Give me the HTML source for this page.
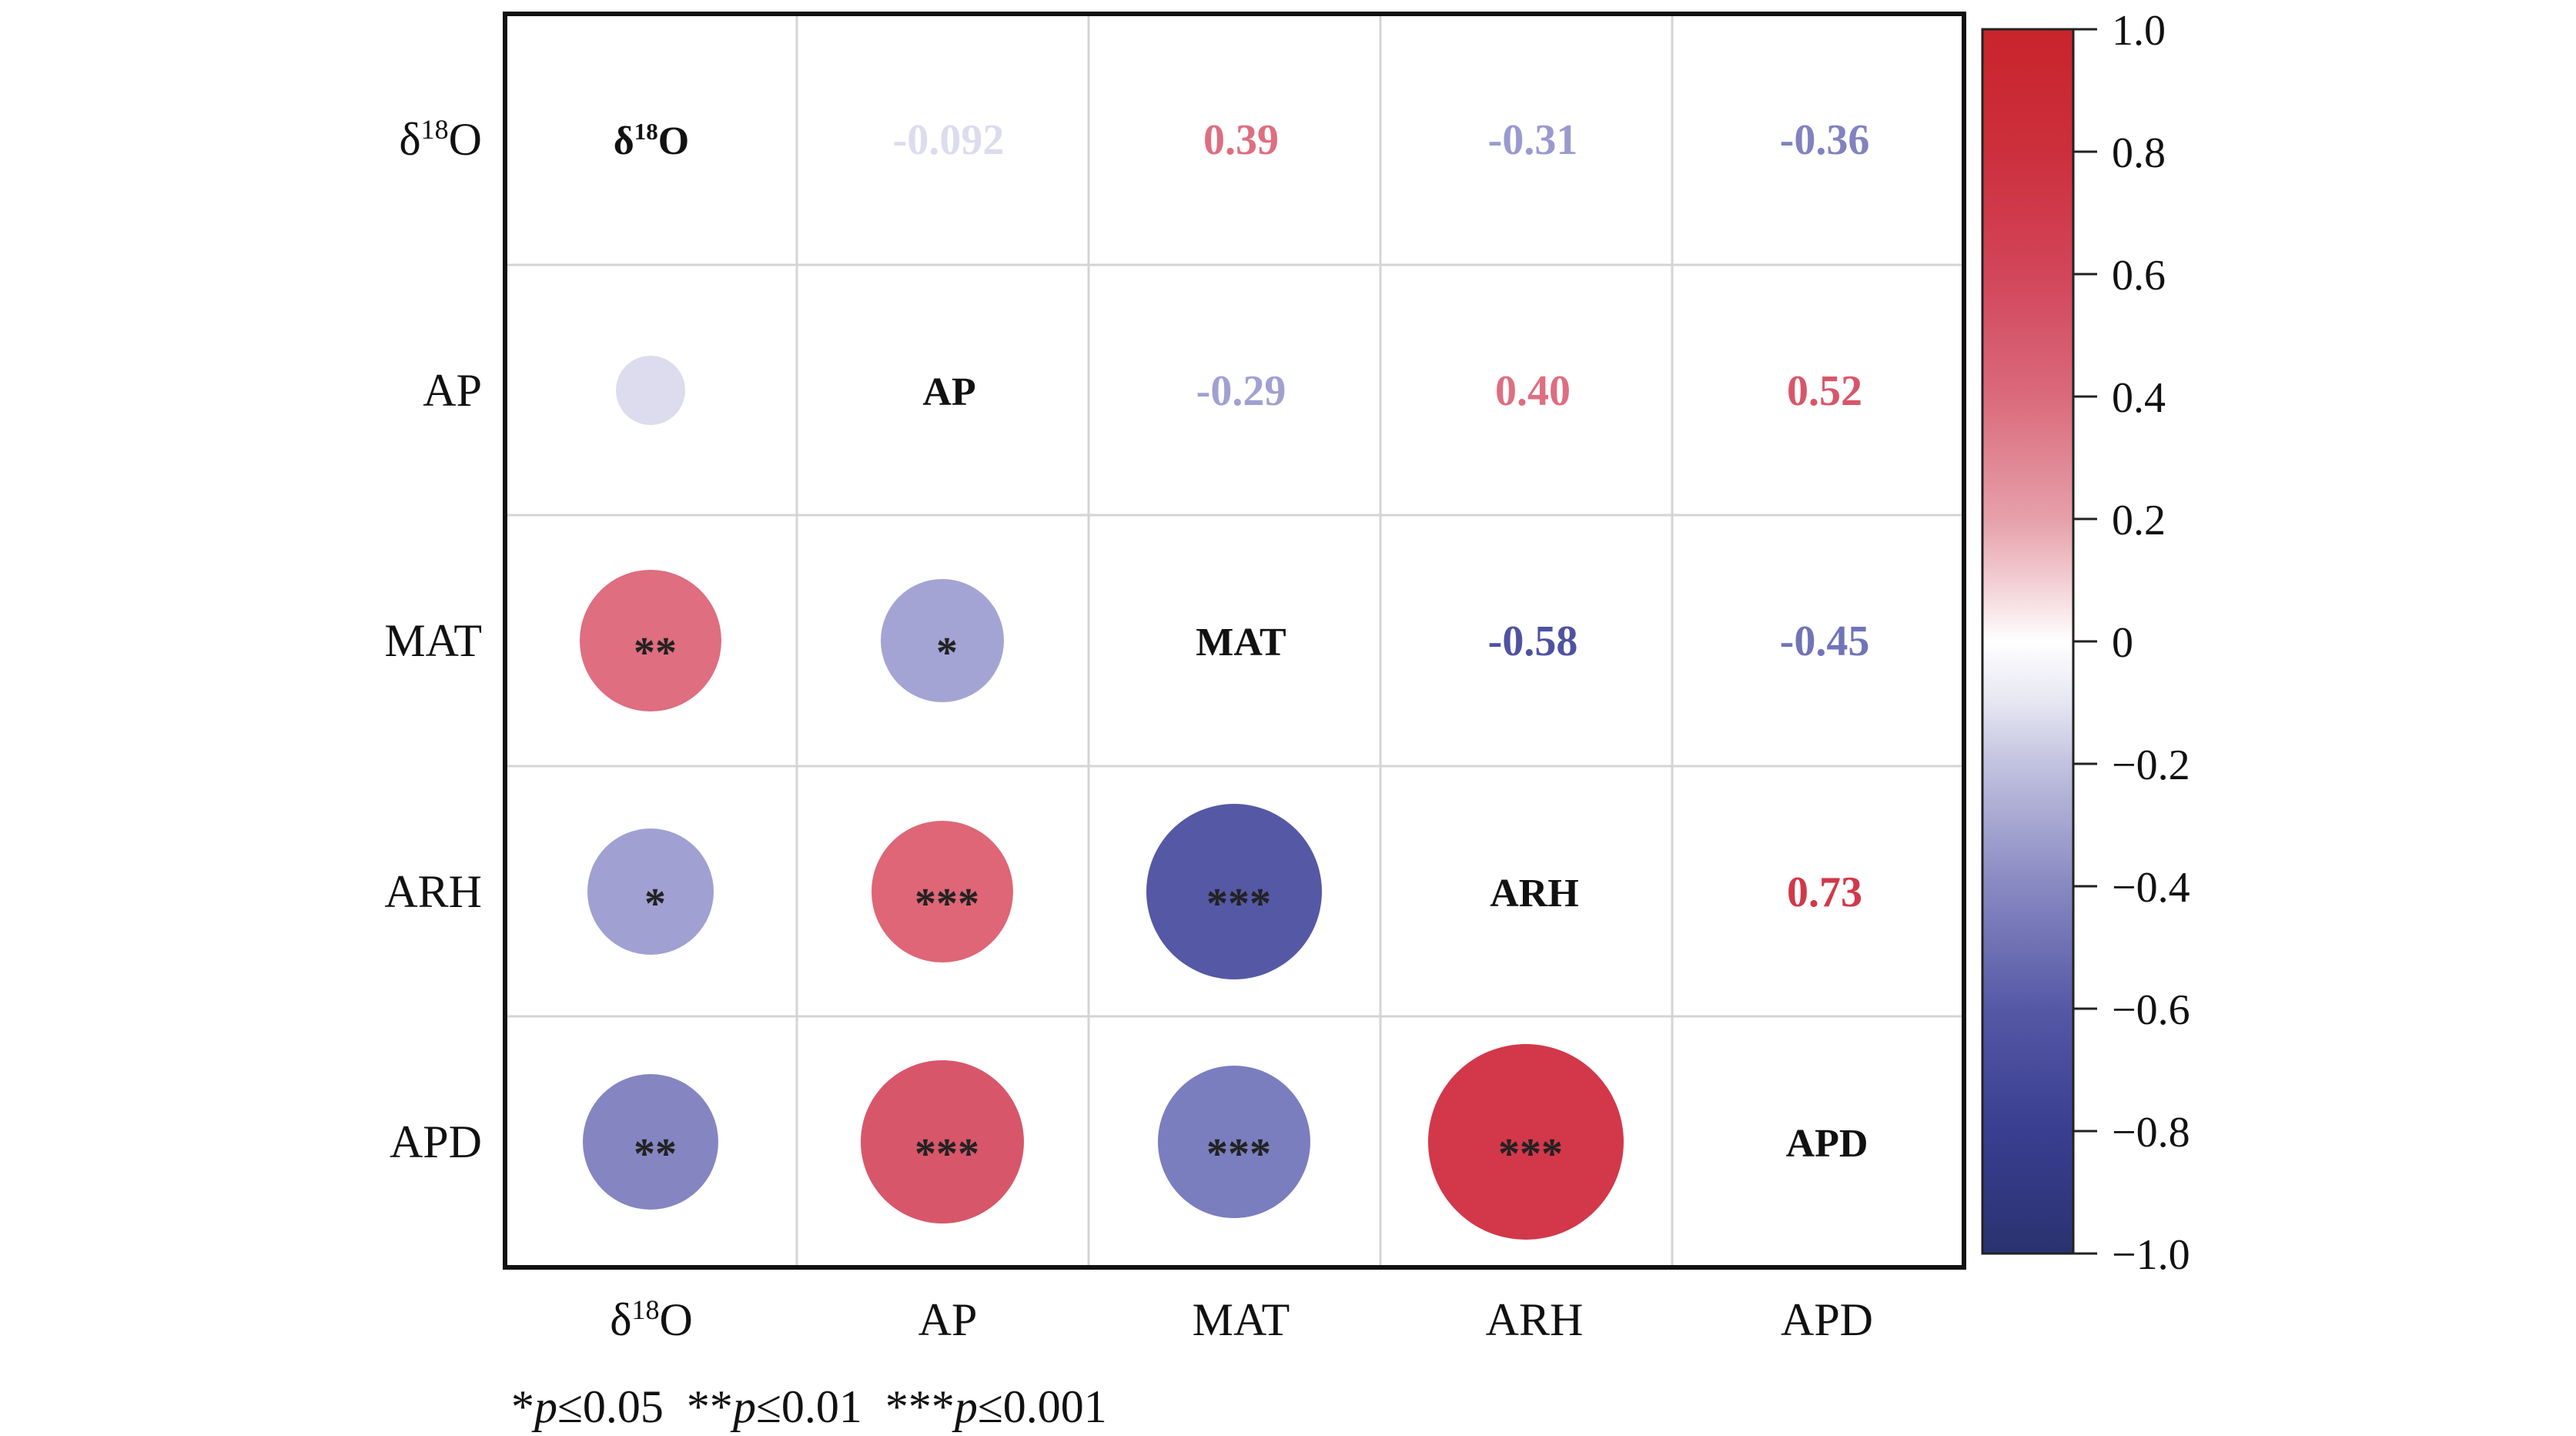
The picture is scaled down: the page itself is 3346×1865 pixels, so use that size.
<!DOCTYPE html>
<html><head><meta charset="utf-8"><style>html,body{margin:0;padding:0;background:#fff}svg{display:block}</style></head>
<body>
<svg width="3346" height="1865" viewBox="0 0 3346 1865" xmlns="http://www.w3.org/2000/svg" font-family="'Liberation Serif', serif">
<defs>
<linearGradient id="cb" x1="0" y1="0" x2="0" y2="1">
<stop offset="0" stop-color="#c8242c"/>
<stop offset="0.1" stop-color="#cc2f3c"/>
<stop offset="0.2" stop-color="#d2455a"/>
<stop offset="0.3" stop-color="#da6a7c"/>
<stop offset="0.4" stop-color="#e6a0aa"/>
<stop offset="0.45" stop-color="#f2cdd2"/>
<stop offset="0.5" stop-color="#ffffff"/>
<stop offset="0.55" stop-color="#e6e6f2"/>
<stop offset="0.6" stop-color="#c2c2e0"/>
<stop offset="0.7" stop-color="#8888c2"/>
<stop offset="0.8" stop-color="#5558a5"/>
<stop offset="0.9" stop-color="#3a3e90"/>
<stop offset="1" stop-color="#2a3270"/>
</linearGradient>
</defs>
<g stroke="#d4d4d4" stroke-width="3">
<line x1="1035" y1="18" x2="1035" y2="1646"/>
<line x1="1414" y1="18" x2="1414" y2="1646"/>
<line x1="1793" y1="18" x2="1793" y2="1646"/>
<line x1="2172" y1="18" x2="2172" y2="1646"/>
<line x1="656" y1="344" x2="2551" y2="344"/>
<line x1="656" y1="669" x2="2551" y2="669"/>
<line x1="656" y1="995" x2="2551" y2="995"/>
<line x1="656" y1="1320" x2="2551" y2="1320"/>
</g>
<rect x="656" y="18" width="1895" height="1628" fill="none" stroke="#111" stroke-width="6"/>
<circle cx="845" cy="507" r="45" fill="#dcdcee"/>
<circle cx="845" cy="832" r="92" fill="#de6e80"/>
<circle cx="1224" cy="832" r="80" fill="#a4a4d4"/>
<circle cx="845" cy="1158" r="82" fill="#a0a0d2"/>
<circle cx="1224" cy="1158" r="92" fill="#de6676"/>
<circle cx="1603" cy="1158" r="114" fill="#5558a5"/>
<circle cx="845" cy="1483" r="88" fill="#8585c2"/>
<circle cx="1224" cy="1483" r="106" fill="#d8566a"/>
<circle cx="1603" cy="1483" r="99" fill="#7a7ebf"/>
<circle cx="1982" cy="1483" r="127" fill="#d2384a"/>
<g font-size="56" font-weight="bold" fill="#222" text-anchor="middle">
<text x="851" y="866">**</text>
<text x="1230" y="866">*</text>
<text x="851" y="1192">*</text>
<text x="1230" y="1192">***</text>
<text x="1609" y="1192">***</text>
<text x="851" y="1517">**</text>
<text x="1230" y="1517">***</text>
<text x="1609" y="1517">***</text>
<text x="1988" y="1517">***</text>
</g>
<g font-size="52" font-weight="bold" fill="#111" text-anchor="middle">
<text x="846" y="200">δ<tspan font-size="31" dy="-19">18</tspan><tspan dy="19">O</tspan></text>
<text x="1233" y="526">AP</text>
<text x="1612" y="851">MAT</text>
<text x="1993" y="1177">ARH</text>
<text x="2373" y="1502">APD</text>
</g>
<g font-size="56" font-weight="bold" text-anchor="middle">
<text x="1232" y="200" fill="#dcdcee">-0.092</text>
<text x="1612" y="200" fill="#de6e80">0.39</text>
<text x="1991" y="200" fill="#9a9ad0">-0.31</text>
<text x="2370" y="200" fill="#8282c0">-0.36</text>
<text x="1612" y="526" fill="#a0a0d2">-0.29</text>
<text x="1991" y="526" fill="#de6e80">0.40</text>
<text x="2370" y="526" fill="#d8566a">0.52</text>
<text x="1991" y="851" fill="#4f52a0">-0.58</text>
<text x="2370" y="851" fill="#7074b8">-0.45</text>
<text x="2370" y="1177" fill="#d2384a">0.73</text>
</g>
<g font-size="60" fill="#111" text-anchor="end">
<text x="626" y="201">δ<tspan font-size="36" dy="-21">18</tspan><tspan dy="21">O</tspan></text>
<text x="626" y="527">AP</text>
<text x="626" y="852">MAT</text>
<text x="626" y="1178">ARH</text>
<text x="626" y="1503">APD</text>
</g>
<g font-size="60" fill="#111" text-anchor="middle">
<text x="846" y="1734">δ<tspan font-size="36" dy="-21">18</tspan><tspan dy="21">O</tspan></text>
<text x="1231" y="1734">AP</text>
<text x="1612" y="1734">MAT</text>
<text x="1993" y="1734">ARH</text>
<text x="2373" y="1734">APD</text>
</g>
<text x="664" y="1847" font-size="60" fill="#111" xml:space="preserve">*<tspan font-style="italic">p</tspan>≤0.05  **<tspan font-style="italic">p</tspan>≤0.01  ***<tspan font-style="italic">p</tspan>≤0.001</text>
<rect x="2575" y="38" width="118" height="1590" fill="url(#cb)" stroke="#222" stroke-width="3"/>
<g stroke="#222" stroke-width="3">
<line x1="2693" y1="38" x2="2724" y2="38"/>
<line x1="2693" y1="197" x2="2724" y2="197"/>
<line x1="2693" y1="356" x2="2724" y2="356"/>
<line x1="2693" y1="515" x2="2724" y2="515"/>
<line x1="2693" y1="674" x2="2724" y2="674"/>
<line x1="2693" y1="833" x2="2724" y2="833"/>
<line x1="2693" y1="992" x2="2724" y2="992"/>
<line x1="2693" y1="1151" x2="2724" y2="1151"/>
<line x1="2693" y1="1310" x2="2724" y2="1310"/>
<line x1="2693" y1="1469" x2="2724" y2="1469"/>
<line x1="2693" y1="1628" x2="2724" y2="1628"/>
</g>
<g font-size="56" fill="#111">
<text x="2743" y="58">1.0</text>
<text x="2743" y="217">0.8</text>
<text x="2743" y="376">0.6</text>
<text x="2743" y="535">0.4</text>
<text x="2743" y="694">0.2</text>
<text x="2743" y="853">0</text>
<text x="2743" y="1012">−0.2</text>
<text x="2743" y="1171">−0.4</text>
<text x="2743" y="1330">−0.6</text>
<text x="2743" y="1489">−0.8</text>
<text x="2743" y="1648">−1.0</text>
</g>
</svg>
</body></html>
